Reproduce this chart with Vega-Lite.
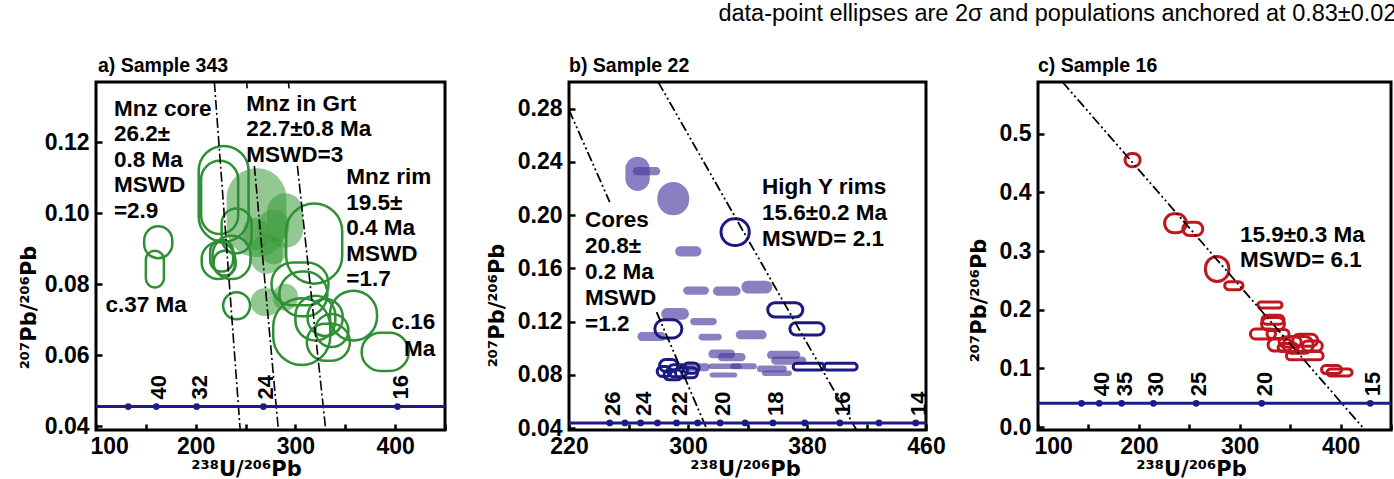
{
  "$schema": "https://vega.github.io/schema/vega-lite/v6.json",
  "background": "white",
  "padding": {"left": 16, "top": 1, "right": 0, "bottom": 0},
  "title": {"text": "data-point ellipses are 2σ and populations anchored at 0.83±0.02", "anchor": "end", "fontSize": 23.5, "fontWeight": "normal", "font": "Liberation Sans", "color": "black", "baseline": "alphabetic", "offset": 10},
  "bounds": "flush",
  "spacing": 124,
  "resolve": {"scale": {"strokeDash": "independent"}},
  "datasets": {
    "a_ell": [
      {"pop": "grt", "xlo": 231, "xhi": 291, "ylo": 0.0877, "yhi": 0.1127},
      {"pop": "grt", "xlo": 271.6, "xhi": 307.6, "ylo": 0.0903, "yhi": 0.1057},
      {"pop": "grt", "xlo": 262, "xhi": 294, "ylo": 0.0919, "yhi": 0.1011},
      {"pop": "grt", "xlo": 255, "xhi": 287, "ylo": 0.083, "yhi": 0.0942},
      {"pop": "grt", "xlo": 264.5, "xhi": 291.5, "ylo": 0.0857, "yhi": 0.0933},
      {"pop": "grt", "xlo": 255, "xhi": 285, "ylo": 0.0711, "yhi": 0.0789},
      {"pop": "grt", "xlo": 277.5, "xhi": 302.5, "ylo": 0.0726, "yhi": 0.0802},
      {"pop": "grt", "xlo": 247.5, "xhi": 272.5, "ylo": 0.0896, "yhi": 0.0988},
      {"pop": "core", "xlo": 203, "xhi": 253, "ylo": 0.092, "yhi": 0.119},
      {"pop": "core", "xlo": 205.4, "xhi": 242.6, "ylo": 0.0942, "yhi": 0.1148},
      {"pop": "core", "xlo": 226, "xhi": 256, "ylo": 0.0888, "yhi": 0.1014},
      {"pop": "core", "xlo": 206, "xhi": 239.5, "ylo": 0.0815, "yhi": 0.0919},
      {"pop": "core", "xlo": 217, "xhi": 255, "ylo": 0.0815, "yhi": 0.0937},
      {"pop": "core", "xlo": 227.5, "xhi": 254.5, "ylo": 0.0702, "yhi": 0.0778},
      {"pop": "core2", "xlo": 214.5, "xhi": 237.5, "ylo": 0.0836, "yhi": 0.0926},
      {"pop": "core2", "xlo": 218, "xhi": 240, "ylo": 0.0825, "yhi": 0.0895},
      {"pop": "old", "xlo": 148.3, "xhi": 176.5, "ylo": 0.0874, "yhi": 0.0964},
      {"pop": "old", "xlo": 150, "xhi": 168.1, "ylo": 0.0791, "yhi": 0.0895},
      {"pop": "young", "xlo": 334.6, "xhi": 381.8, "ylo": 0.0642, "yhi": 0.0782},
      {"pop": "young", "xlo": 366.4, "xhi": 413.6, "ylo": 0.0556, "yhi": 0.0664},
      {"pop": "rim", "xlo": 290.7, "xhi": 346.9, "ylo": 0.0802, "yhi": 0.1028},
      {"pop": "rim", "xlo": 276, "xhi": 333.2, "ylo": 0.0741, "yhi": 0.0862},
      {"pop": "rim", "xlo": 283.9, "xhi": 332.1, "ylo": 0.071, "yhi": 0.0836},
      {"pop": "rim", "xlo": 277.7, "xhi": 334.9, "ylo": 0.0573, "yhi": 0.0761},
      {"pop": "rim", "xlo": 312.2, "xhi": 347.4, "ylo": 0.0655, "yhi": 0.0759},
      {"pop": "rim", "xlo": 319.9, "xhi": 353.1, "ylo": 0.0624, "yhi": 0.0717},
      {"pop": "rim", "xlo": 311.4, "xhi": 354.6, "ylo": 0.0585, "yhi": 0.0689},
      {"pop": "rim", "xlo": 300, "xhi": 340, "ylo": 0.0642, "yhi": 0.0768}
    ],
    "a_lines": [
      {"seg": "1", "x": 218.7, "y": 0.137}, {"seg": "1", "x": 244.6, "y": 0.039},
      {"seg": "2a", "x": 251.1, "y": 0.137}, {"seg": "2a", "x": 251.6, "y": 0.1352},
      {"seg": "2b", "x": 258.8, "y": 0.1134}, {"seg": "2b", "x": 282.9, "y": 0.039},
      {"seg": "3a", "x": 293, "y": 0.137}, {"seg": "3a", "x": 293.6, "y": 0.1352},
      {"seg": "3b", "x": 302, "y": 0.1134}, {"seg": "3b", "x": 330.4, "y": 0.039}
    ],
    "a_cline": [{"y": 0.0456}],
    "a_conc": [
      {"x": 132.3, "y": 0.0456, "label": ""},
      {"x": 160.5, "y": 0.0456, "label": "40"},
      {"x": 200.9, "y": 0.0456, "label": "32"},
      {"x": 267.9, "y": 0.0456, "label": "24"},
      {"x": 402.4, "y": 0.0456, "label": "16"}
    ],
    "a_text": [
      {"x": 118, "y": 0.1326, "text": "Mnz core\n26.2±\n0.8 Ma\nMSWD\n=2.9"},
      {"x": 250.8, "y": 0.134, "text": "Mnz in Grt\n22.7±0.8 Ma\nMSWD=3"},
      {"x": 351, "y": 0.1133, "text": "Mnz rim\n19.5±\n0.4 Ma\nMSWD\n=1.7"},
      {"x": 109.5, "y": 0.0772, "text": "c.37 Ma"}
    ],
    "a_text_r": [
      {"x": 440.2, "y": 0.0725, "text": "c.16\nMa"}
    ],
    "b_ell": [
      {"pop": "fill", "xlo": 257.9, "xhi": 274.3, "ylo": 0.2181, "yhi": 0.2439},
      {"pop": "fill", "xlo": 262.9, "xhi": 281.3, "ylo": 0.2299, "yhi": 0.2361},
      {"pop": "fill", "xlo": 279.4, "xhi": 300.8, "ylo": 0.1998, "yhi": 0.2248},
      {"pop": "fill", "xlo": 291.4, "xhi": 309.0, "ylo": 0.1689, "yhi": 0.1765},
      {"pop": "fill", "xlo": 296.7, "xhi": 314.1, "ylo": 0.1402, "yhi": 0.1464},
      {"pop": "fill", "xlo": 316.8, "xhi": 335.4, "ylo": 0.1394, "yhi": 0.1464},
      {"pop": "fill", "xlo": 335.9, "xhi": 356.7, "ylo": 0.1411, "yhi": 0.1507},
      {"pop": "fill", "xlo": 282.0, "xhi": 300.6, "ylo": 0.1214, "yhi": 0.1302},
      {"pop": "fill", "xlo": 301.4, "xhi": 319.4, "ylo": 0.1173, "yhi": 0.1227},
      {"pop": "fill", "xlo": 266.0, "xhi": 285.0, "ylo": 0.1053, "yhi": 0.1121},
      {"pop": "fill", "xlo": 307.0, "xhi": 322.8, "ylo": 0.1058, "yhi": 0.1108},
      {"pop": "fill", "xlo": 332.1, "xhi": 352.9, "ylo": 0.1066, "yhi": 0.1134},
      {"pop": "fill", "xlo": 313.7, "xhi": 331.7, "ylo": 0.0924, "yhi": 0.0990},
      {"pop": "fill", "xlo": 320.1, "xhi": 338.7, "ylo": 0.0901, "yhi": 0.0963},
      {"pop": "fill", "xlo": 353.1, "xhi": 375.5, "ylo": 0.0918, "yhi": 0.0980},
      {"pop": "fill", "xlo": 355.9, "xhi": 379.5, "ylo": 0.0876, "yhi": 0.0938},
      {"pop": "fill", "xlo": 296.8, "xhi": 314.8, "ylo": 0.0827, "yhi": 0.0887},
      {"pop": "fill", "xlo": 313.8, "xhi": 336.2, "ylo": 0.0843, "yhi": 0.0885},
      {"pop": "fill", "xlo": 328.3, "xhi": 346.3, "ylo": 0.0841, "yhi": 0.0887},
      {"pop": "fill", "xlo": 346.3, "xhi": 366.5, "ylo": 0.0819, "yhi": 0.0869},
      {"pop": "fill", "xlo": 349.7, "xhi": 369.9, "ylo": 0.0791, "yhi": 0.0833},
      {"pop": "fill", "xlo": 314.5, "xhi": 333.1, "ylo": 0.0780, "yhi": 0.0818},
      {"pop": "rim", "xlo": 322.2, "xhi": 341.2, "ylo": 0.1772, "yhi": 0.1972},
      {"pop": "rim", "xlo": 353.6, "xhi": 377.2, "ylo": 0.1235, "yhi": 0.1341},
      {"pop": "rim", "xlo": 368.5, "xhi": 391.5, "ylo": 0.1099, "yhi": 0.1191},
      {"pop": "rim", "xlo": 370.7, "xhi": 391.7, "ylo": 0.0835, "yhi": 0.0887},
      {"pop": "rim", "xlo": 391.3, "xhi": 413.7, "ylo": 0.0835, "yhi": 0.0887},
      {"pop": "core", "xlo": 277.7, "xhi": 295.9, "ylo": 0.1077, "yhi": 0.1213},
      {"pop": "core", "xlo": 280.9, "xhi": 293.1, "ylo": 0.0825, "yhi": 0.0915},
      {"pop": "core", "xlo": 286.3, "xhi": 299.7, "ylo": 0.0785, "yhi": 0.0875},
      {"pop": "core", "xlo": 291.6, "xhi": 306.4, "ylo": 0.0777, "yhi": 0.0853},
      {"pop": "core", "xlo": 283.9, "xhi": 296.1, "ylo": 0.0762, "yhi": 0.0838},
      {"pop": "core", "xlo": 296.6, "xhi": 307.4, "ylo": 0.0812, "yhi": 0.0888},
      {"pop": "core", "xlo": 279.3, "xhi": 288.7, "ylo": 0.0787, "yhi": 0.0863}
    ],
    "b_lines": [
      {"seg": "1a", "x": 220, "y": 0.279}, {"seg": "1a", "x": 247.4, "y": 0.2098},
      {"seg": "1b", "x": 278.9, "y": 0.1271}, {"seg": "1b", "x": 312.9, "y": 0.0385},
      {"seg": "2", "x": 280.0, "y": 0.2999}, {"seg": "2", "x": 413.3, "y": 0.0385}
    ],
    "b_cline": [{"y": 0.0438}],
    "b_conc": [
      {"x": 247.4, "y": 0.0438, "label": "26"},
      {"x": 257.6, "y": 0.0438, "label": ""},
      {"x": 268.1, "y": 0.0438, "label": "24"},
      {"x": 279.5, "y": 0.0438, "label": ""},
      {"x": 292.3, "y": 0.0438, "label": "22"},
      {"x": 306.5, "y": 0.0438, "label": ""},
      {"x": 321.6, "y": 0.0438, "label": "20"},
      {"x": 338.4, "y": 0.0438, "label": ""},
      {"x": 357.1, "y": 0.0438, "label": "18"},
      {"x": 378.5, "y": 0.0438, "label": ""},
      {"x": 402.1, "y": 0.0438, "label": "16"},
      {"x": 428.4, "y": 0.0438, "label": ""},
      {"x": 453.1, "y": 0.0438, "label": "14"}
    ],
    "b_text": [
      {"x": 230.8, "y": 0.2046, "text": "Cores\n20.8±\n0.2 Ma\nMSWD\n=1.2"},
      {"x": 349.8, "y": 0.2296, "text": "High Y rims\n15.6±0.2 Ma\nMSWD= 2.1"}
    ],
    "c_ell": [
      {"xlo": 186.3, "xhi": 201.3, "ylo": 0.4437, "yhi": 0.4663},
      {"xlo": 225.5, "xhi": 247.1, "ylo": 0.3311, "yhi": 0.3635},
      {"xlo": 243.6, "xhi": 263.4, "ylo": 0.3263, "yhi": 0.3489},
      {"xlo": 266.0, "xhi": 289.2, "ylo": 0.2481, "yhi": 0.2907},
      {"xlo": 285.1, "xhi": 303.3, "ylo": 0.2342, "yhi": 0.2478},
      {"xlo": 318.1, "xhi": 341.9, "ylo": 0.2029, "yhi": 0.2131},
      {"xlo": 321.6, "xhi": 344.4, "ylo": 0.1646, "yhi": 0.1868},
      {"xlo": 322.1, "xhi": 343.9, "ylo": 0.1753, "yhi": 0.1907},
      {"xlo": 310.6, "xhi": 335.4, "ylo": 0.1501, "yhi": 0.1671},
      {"xlo": 327.1, "xhi": 348.9, "ylo": 0.1509, "yhi": 0.1663},
      {"xlo": 328.1, "xhi": 351.9, "ylo": 0.1298, "yhi": 0.1502},
      {"xlo": 343.1, "xhi": 372.9, "ylo": 0.1258, "yhi": 0.1542},
      {"xlo": 346.3, "xhi": 382.7, "ylo": 0.1145, "yhi": 0.1287},
      {"xlo": 381.1, "xhi": 400.9, "ylo": 0.0912, "yhi": 0.1048},
      {"xlo": 386.6, "xhi": 411.4, "ylo": 0.087, "yhi": 0.099},
      {"xlo": 352.6, "xhi": 377.4, "ylo": 0.1378, "yhi": 0.1582},
      {"xlo": 339.1, "xhi": 360.9, "ylo": 0.1365, "yhi": 0.1535},
      {"xlo": 362.1, "xhi": 381.9, "ylo": 0.1295, "yhi": 0.1465},
      {"xlo": 338.1, "xhi": 357.9, "ylo": 0.1287, "yhi": 0.1423}
    ],
    "c_lines": [
      {"seg": "1", "x": 124.3, "y": 0.588}, {"seg": "1", "x": 424.2, "y": -0.005}
    ],
    "c_cline": [{"y": 0.0405}],
    "c_conc": [
      {"x": 143.1, "y": 0.0405, "label": ""},
      {"x": 160.7, "y": 0.0405, "label": "40"},
      {"x": 182.9, "y": 0.0405, "label": "35"},
      {"x": 214.4, "y": 0.0405, "label": "30"},
      {"x": 256.8, "y": 0.0405, "label": "25"},
      {"x": 321.8, "y": 0.0405, "label": "20"},
      {"x": 429.4, "y": 0.0405, "label": "15"}
    ],
    "c_text": [
      {"x": 300.2, "y": 0.3456, "text": "15.9±0.3 Ma\nMSWD= 6.1"}
    ]
  },
  "hconcat": [
    {
      "title": {"text": "a) Sample 343", "anchor": "start", "frame": "group", "fontSize": 19.5, "fontWeight": "bold", "baseline": "alphabetic", "offset": -13, "dx": 2},
      "width": 349,
      "height": 348,
      "layer": [
        {
          "data": {"name": "a_ell"},
          "transform": [{"filter": "datum.pop == 'grt'"}],
          "mark": {"type": "rect", "cornerRadius": 999, "fill": "#3a9a3a", "fillOpacity": 0.55, "strokeWidth": 0},
          "encoding": {
            "x": {"field": "xlo", "type": "quantitative", "scale": {"domain": [100, 450], "nice": false, "zero": false},
                  "axis": {"values": [100, 150, 200, 250, 300, 350, 400, 450], "labelExpr": "datum.value % 100 == 0 ? datum.label : ''", "labelPadding": 11, "labelFlush": true, "labelFlushOffset": 6, "title": "²³⁸U/²⁰⁶Pb", "titleX": 150, "titleY": 45}},
            "x2": {"field": "xhi"},
            "y": {"field": "ylo", "type": "quantitative", "scale": {"domain": [0.039, 0.137], "nice": false, "zero": false},
                  "axis": {"values": [0.04, 0.05, 0.06, 0.07, 0.08, 0.09, 0.1, 0.11, 0.12, 0.13], "labelExpr": "round(datum.value*100) % 2 == 0 ? format(datum.value, '.2f') : ''", "title": "²⁰⁷Pb/²⁰⁶Pb", "titleX": -61, "titleY": 225}},
            "y2": {"field": "yhi"}
          }
        },
        {
          "data": {"name": "a_ell"},
          "transform": [{"filter": "datum.pop != 'grt'"}],
          "mark": {"type": "rect", "cornerRadius": 999, "filled": false, "stroke": "#2f8f35", "strokeWidth": 2.5},
          "encoding": {
            "x": {"field": "xlo", "type": "quantitative"},
            "x2": {"field": "xhi"},
            "y": {"field": "ylo", "type": "quantitative"},
            "y2": {"field": "yhi"},
            "strokeDash": {"field": "pop", "type": "nominal", "legend": null,
                           "scale": {"domain": ["core", "core2", "old", "young", "rim"], "range": [[6, 4], [1, 0], [9, 3, 2, 3], [2, 3.5], [1, 0]]}}
          }
        },
        {
          "data": {"name": "a_lines"},
          "mark": {"type": "line", "color": "black", "strokeWidth": 1.6, "strokeDash": [10, 3, 2, 3]},
          "encoding": {
            "x": {"field": "x", "type": "quantitative"},
            "y": {"field": "y", "type": "quantitative"},
            "detail": {"field": "seg", "type": "nominal"}
          }
        },
        {
          "data": {"name": "a_cline"},
          "mark": {"type": "rule", "color": "#1f1b86", "strokeWidth": 3},
          "encoding": {"y": {"field": "y", "type": "quantitative"}}
        },
        {
          "data": {"name": "a_conc"},
          "mark": {"type": "point", "filled": true, "size": 45, "color": "#1f1b86", "opacity": 1},
          "encoding": {"x": {"field": "x", "type": "quantitative"}, "y": {"field": "y", "type": "quantitative"}}
        },
        {
          "data": {"name": "a_conc"},
          "transform": [{"filter": "datum.label != ''"}],
          "mark": {"type": "text", "angle": 270, "align": "left", "baseline": "middle", "dx": 7, "dy": 3, "fontSize": 22, "fontWeight": "bold", "color": "black", "font": "Liberation Sans"},
          "encoding": {"x": {"field": "x", "type": "quantitative"}, "y": {"field": "y", "type": "quantitative"}, "text": {"field": "label", "type": "nominal"}}
        },
        {
          "data": {"name": "a_text"},
          "mark": {"type": "text", "align": "left", "baseline": "top", "lineBreak": "\n", "lineHeight": 25.5, "fontSize": 22.5, "fontWeight": "bold", "color": "black", "font": "Liberation Sans"},
          "encoding": {"x": {"field": "x", "type": "quantitative"}, "y": {"field": "y", "type": "quantitative"}, "text": {"field": "text", "type": "nominal"}}
        },
        {
          "data": {"name": "a_text_r"},
          "mark": {"type": "text", "align": "right", "baseline": "top", "lineBreak": "\n", "lineHeight": 26.5, "fontSize": 22.5, "fontWeight": "bold", "color": "black", "font": "Liberation Sans"},
          "encoding": {"x": {"field": "x", "type": "quantitative"}, "y": {"field": "y", "type": "quantitative"}, "text": {"field": "text", "type": "nominal"}}
        }
      ]
    },
    {
      "bounds": "flush",
      "spacing": 112,
      "resolve": {"scale": {"strokeDash": "independent"}},
      "hconcat": [
        {
          "title": {"text": "b) Sample 22", "anchor": "start", "frame": "group", "fontSize": 19.5, "fontWeight": "bold", "baseline": "alphabetic", "offset": -13, "dx": 0},
          "width": 357,
          "height": 348,
          "layer": [
            {
              "data": {"name": "b_ell"},
              "transform": [{"filter": "datum.pop == 'fill'"}],
              "mark": {"type": "rect", "cornerRadius": 999, "fill": "#4b3b9e", "fillOpacity": 0.65, "strokeWidth": 0},
              "encoding": {
                "x": {"field": "xlo", "type": "quantitative", "scale": {"domain": [220, 460], "nice": false, "zero": false},
                      "axis": {"values": [220, 240, 260, 280, 300, 320, 340, 360, 380, 400, 420, 440, 460], "labelExpr": "(datum.value - 220) % 80 == 0 ? datum.label : ''", "labelPadding": 11, "title": "²³⁸U/²⁰⁶Pb", "titleX": 176, "titleY": 45}},
                "x2": {"field": "xhi"},
                "y": {"field": "ylo", "type": "quantitative", "scale": {"domain": [0.0385, 0.3], "nice": false, "zero": false},
                      "axis": {"values": [0.04, 0.06, 0.08, 0.1, 0.12, 0.14, 0.16, 0.18, 0.2, 0.22, 0.24, 0.26, 0.28], "labelExpr": "round(datum.value*100) % 4 == 0 ? format(datum.value, '.2f') : ''", "title": "²⁰⁷Pb/²⁰⁶Pb", "titleX": -66, "titleY": 223}},
                "y2": {"field": "yhi"}
              }
            },
            {
              "data": {"name": "b_ell"},
              "transform": [{"filter": "datum.pop != 'fill'"}],
              "mark": {"type": "rect", "cornerRadius": 999, "filled": false, "stroke": "#1c1a80", "strokeWidth": 3},
              "encoding": {
                "x": {"field": "xlo", "type": "quantitative"},
                "x2": {"field": "xhi"},
                "y": {"field": "ylo", "type": "quantitative"},
                "y2": {"field": "yhi"},
                "strokeDash": {"field": "pop", "type": "nominal", "legend": null,
                               "scale": {"domain": ["rim", "core"], "range": [[1, 0], [5, 3]]}}
              }
            },
            {
              "data": {"name": "b_lines"},
              "mark": {"type": "line", "color": "black", "strokeWidth": 1.8, "strokeDash": [10, 3, 2, 3, 2, 3]},
              "encoding": {
                "x": {"field": "x", "type": "quantitative"},
                "y": {"field": "y", "type": "quantitative"},
                "detail": {"field": "seg", "type": "nominal"}
              }
            },
            {
              "data": {"name": "b_cline"},
              "mark": {"type": "rule", "color": "#1f1b86", "strokeWidth": 3},
              "encoding": {"y": {"field": "y", "type": "quantitative"}}
            },
            {
              "data": {"name": "b_conc"},
              "mark": {"type": "point", "filled": true, "size": 45, "color": "#1f1b86", "opacity": 1},
              "encoding": {"x": {"field": "x", "type": "quantitative"}, "y": {"field": "y", "type": "quantitative"}}
            },
            {
              "data": {"name": "b_conc"},
              "transform": [{"filter": "datum.label != ''"}],
              "mark": {"type": "text", "angle": 270, "align": "left", "baseline": "middle", "dx": 7, "dy": 3, "fontSize": 22, "fontWeight": "bold", "color": "black", "font": "Liberation Sans"},
              "encoding": {"x": {"field": "x", "type": "quantitative"}, "y": {"field": "y", "type": "quantitative"}, "text": {"field": "label", "type": "nominal"}}
            },
            {
              "data": {"name": "b_text"},
              "mark": {"type": "text", "align": "left", "baseline": "top", "lineBreak": "\n", "lineHeight": 26, "fontSize": 22.5, "fontWeight": "bold", "color": "black", "font": "Liberation Sans"},
              "encoding": {"x": {"field": "x", "type": "quantitative"}, "y": {"field": "y", "type": "quantitative"}, "text": {"field": "text", "type": "nominal"}}
            }
          ]
        },
        {
          "title": {"text": "c) Sample 16", "anchor": "start", "frame": "group", "fontSize": 19.5, "fontWeight": "bold", "baseline": "alphabetic", "offset": -13, "dx": 0},
          "width": 353,
          "height": 348,
          "layer": [
            {
              "data": {"name": "c_ell"},
              "mark": {"type": "rect", "cornerRadius": 999, "filled": false, "stroke": "#c0161d", "strokeWidth": 3},
              "encoding": {
                "x": {"field": "xlo", "type": "quantitative", "scale": {"domain": [100, 450], "nice": false, "zero": false},
                      "axis": {"values": [100, 150, 200, 250, 300, 350, 400, 450], "labelExpr": "datum.value % 100 == 0 ? datum.label : ''", "labelPadding": 11, "labelFlush": true, "labelFlushOffset": 4, "title": "²³⁸U/²⁰⁶Pb", "titleX": 153, "titleY": 45}},
                "x2": {"field": "xhi"},
                "y": {"field": "ylo", "type": "quantitative", "scale": {"domain": [-0.005, 0.588], "nice": false, "zero": false},
                      "axis": {"values": [0, 0.05, 0.1, 0.15, 0.2, 0.25, 0.3, 0.35, 0.4, 0.45, 0.5, 0.55], "labelExpr": "round(datum.value*100) % 10 == 0 ? format(datum.value, '.1f') : ''", "title": "²⁰⁷Pb/²⁰⁶Pb", "titleX": -53, "titleY": 218}},
                "y2": {"field": "yhi"}
              }
            },
            {
              "data": {"name": "c_lines"},
              "mark": {"type": "line", "color": "black", "strokeWidth": 1.8, "strokeDash": [10, 3, 2, 3, 2, 3]},
              "encoding": {
                "x": {"field": "x", "type": "quantitative"},
                "y": {"field": "y", "type": "quantitative"},
                "detail": {"field": "seg", "type": "nominal"}
              }
            },
            {
              "data": {"name": "c_cline"},
              "mark": {"type": "rule", "color": "#1f1b86", "strokeWidth": 3},
              "encoding": {"y": {"field": "y", "type": "quantitative"}}
            },
            {
              "data": {"name": "c_conc"},
              "mark": {"type": "point", "filled": true, "size": 45, "color": "#1f1b86", "opacity": 1},
              "encoding": {"x": {"field": "x", "type": "quantitative"}, "y": {"field": "y", "type": "quantitative"}}
            },
            {
              "data": {"name": "c_conc"},
              "transform": [{"filter": "datum.label != ''"}],
              "mark": {"type": "text", "angle": 270, "align": "left", "baseline": "middle", "dx": 7, "dy": 3, "fontSize": 22, "fontWeight": "bold", "color": "black", "font": "Liberation Sans"},
              "encoding": {"x": {"field": "x", "type": "quantitative"}, "y": {"field": "y", "type": "quantitative"}, "text": {"field": "label", "type": "nominal"}}
            },
            {
              "data": {"name": "c_text"},
              "mark": {"type": "text", "align": "left", "baseline": "top", "lineBreak": "\n", "lineHeight": 25, "fontSize": 22.5, "fontWeight": "bold", "color": "black", "font": "Liberation Sans"},
              "encoding": {"x": {"field": "x", "type": "quantitative"}, "y": {"field": "y", "type": "quantitative"}, "text": {"field": "text", "type": "nominal"}}
            }
          ]
        }
      ]
    }
  ],
  "config": {
    "font": "Liberation Sans",
    "view": {"stroke": "black", "strokeWidth": 3},
    "title": {"font": "Liberation Sans", "color": "black"},
    "axis": {
      "domain": false, "grid": false, "ticks": true, "tickColor": "black", "tickWidth": 2.5, "tickSize": -6,
      "labelFont": "Liberation Sans", "labelFontSize": 23, "labelFontWeight": "bold", "labelColor": "black",
      "labelPadding": 13, "labelOverlap": false, "labelBound": false, "labelFlush": false,
      "titleFont": "DejaVu Sans", "titleFontSize": 21, "titleFontWeight": "bold", "titleColor": "black",
      "titleBaseline": "alphabetic", "titleAlign": "center"
    }
  }
}
